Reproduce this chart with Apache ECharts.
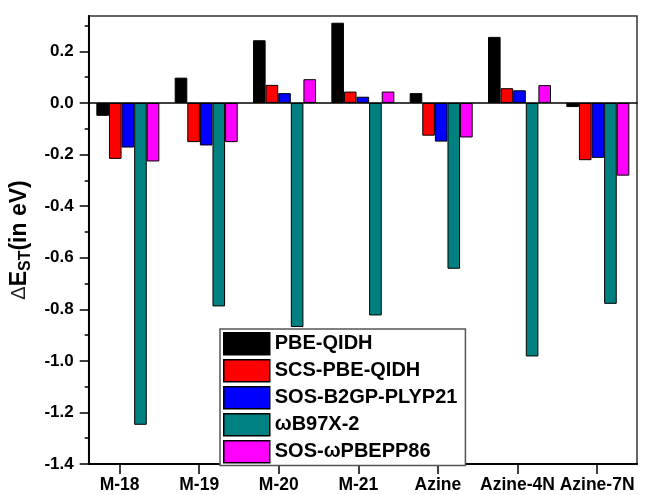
<!DOCTYPE html>
<html>
<head>
<meta charset="utf-8">
<script src="https://cdn.jsdelivr.net/npm/echarts@6/dist/echarts.min.js"></script>
<style>
html,body{margin:0;padding:0;background:#fff;}
#chart{width:651px;height:495px;}
</style>
</head>
<body>
<div id="chart"></div>
<script>
const categories = ['M-18', 'M-19', 'M-20', 'M-21', 'Azine', 'Azine-4N', 'Azine-7N'];
const seriesNames = ['PBE-QIDH', 'SCS-PBE-QIDH', 'SOS-B2GP-PLYP21', '\u03c9B97X-2', 'SOS-\u03c9PBEPP86'];
const pbeQidh   = [-0.050, 0.098, 0.243, 0.311, 0.038, 0.256, -0.016];
const scsPbeQidh = [-0.217, -0.152, 0.070, 0.044, -0.127, 0.057, -0.222];
const sosB2gpPlyp21 = [-0.173, -0.165, 0.038, 0.024, -0.150, 0.049, -0.213];
const wB97X2    = [-1.248, -0.789, -0.869, -0.824, -0.643, -0.983, -0.779];
const sosWPbepp86 = [-0.227, -0.152, 0.092, 0.044, -0.134, 0.069, -0.282];
const yMajorTicks = [-1.4, -1.2, -1.0, -0.8, -0.6, -0.4, -0.2, 0.0, 0.2];
const yMinorTicks = [-1.3, -1.1, -0.9, -0.7, -0.5, -0.3, -0.1, 0.1, 0.3];
const xTickPositions = [0, 1, 2, 3, 4, 5, 6];

const colors = ['#000000', '#ff0000', '#0000ff', '#008080', '#ff00ff'];
const seriesData = [pbeQidh, scsPbeQidh, sosB2gpPlyp21, wB97X2, sosWPbepp86];
const FONT = "'Liberation Sans', Arial, sans-serif";

const chart = echarts.init(document.getElementById('chart'), null, {renderer: 'canvas'});
const Y_MIN = -1.4, Y_MAX = 0.337;

chart.setOption({
  animation: false,
  color: colors,
  grid: {left: 87, top: 16, right: 14, bottom: 31, show: true, borderColor: '#333', borderWidth: 1.5, backgroundColor: 'transparent'},
  legend: {
    orient: 'vertical', left: 220, top: 329,
    itemWidth: 46, itemHeight: 22, itemGap: 3.5,
    padding: [3, 8, 2, 3],
    borderColor: '#555', borderWidth: 1.5, backgroundColor: '#fff',
    icon: 'rect',
    itemStyle: {borderColor: '#000', borderWidth: 1.5},
    textStyle: {fontFamily: FONT, fontSize: 20, fontWeight: 'bold', color: '#000'},
    data: seriesNames
  },
  xAxis: [
    {
      type: 'category', data: categories, position: 'bottom',
      axisLine: {show: true, onZero: true, lineStyle: {color: '#000', width: 1.5}},
      axisTick: {show: false}, axisLabel: {show: false}, splitLine: {show: false}
    },
    {
      type: 'value', position: 'bottom',
      min: (87 - 118) / 79.83, max: (637 - 118) / 79.83,
      axisLine: {show: true, onZero: false, lineStyle: {color: '#000', width: 2}},
      axisTick: {show: true, customValues: xTickPositions, length: 10, lineStyle: {color: '#000', width: 1.5}},
      axisLabel: {show: true, customValues: xTickPositions, margin: 12,
        formatter: v => categories[Math.round(v)],
        fontFamily: FONT, fontSize: 17.5, fontWeight: 'bold', color: '#000'},
      splitLine: {show: false}
    }
  ],
  yAxis: [
    {
      type: 'value', min: Y_MIN, max: Y_MAX, position: 'left',
      axisLine: {show: true, onZero: false, lineStyle: {color: '#000', width: 2}},
      axisTick: {show: true, customValues: yMajorTicks, length: 9, lineStyle: {color: '#000', width: 1.5}},
      axisLabel: {show: true, customValues: yMajorTicks, margin: 15,
        formatter: v => v.toFixed(1),
        fontFamily: FONT, fontSize: 17, fontWeight: 'bold', color: '#000'},
      splitLine: {show: false},
      name: '{d|\u0394}{e|E}{s|ST}{e|(in eV)}',
      nameLocation: 'middle', nameRotate: 90, nameGap: 50,
      nameTextStyle: {
        rich: {
          d: {fontFamily: FONT, fontSize: 20, color: '#222', lineHeight: 28},
          e: {fontFamily: FONT, fontSize: 23, fontWeight: 'bold', color: '#000', lineHeight: 28},
          s: {fontFamily: FONT, fontSize: 16, fontWeight: 'bold', color: '#000', lineHeight: 16, verticalAlign: 'bottom', padding: [9, 0, 0, 0]}
        }
      }
    },
    {
      type: 'value', min: Y_MIN, max: Y_MAX, position: 'left',
      axisLine: {show: false, onZero: false},
      axisTick: {show: true, customValues: yMinorTicks, length: 4, lineStyle: {color: '#000', width: 1.5}},
      axisLabel: {show: false},
      splitLine: {show: false}
    }
  ],
  series: seriesNames.map((name, i) => ({
    name: name,
    type: 'bar',
    xAxisIndex: 0, yAxisIndex: 0,
    data: seriesData[i],
    barWidth: 12.6,
    barGap: '0%',
    itemStyle: {color: colors[i], borderColor: '#000', borderWidth: 1}
  }))
});
</script>
</body>
</html>
